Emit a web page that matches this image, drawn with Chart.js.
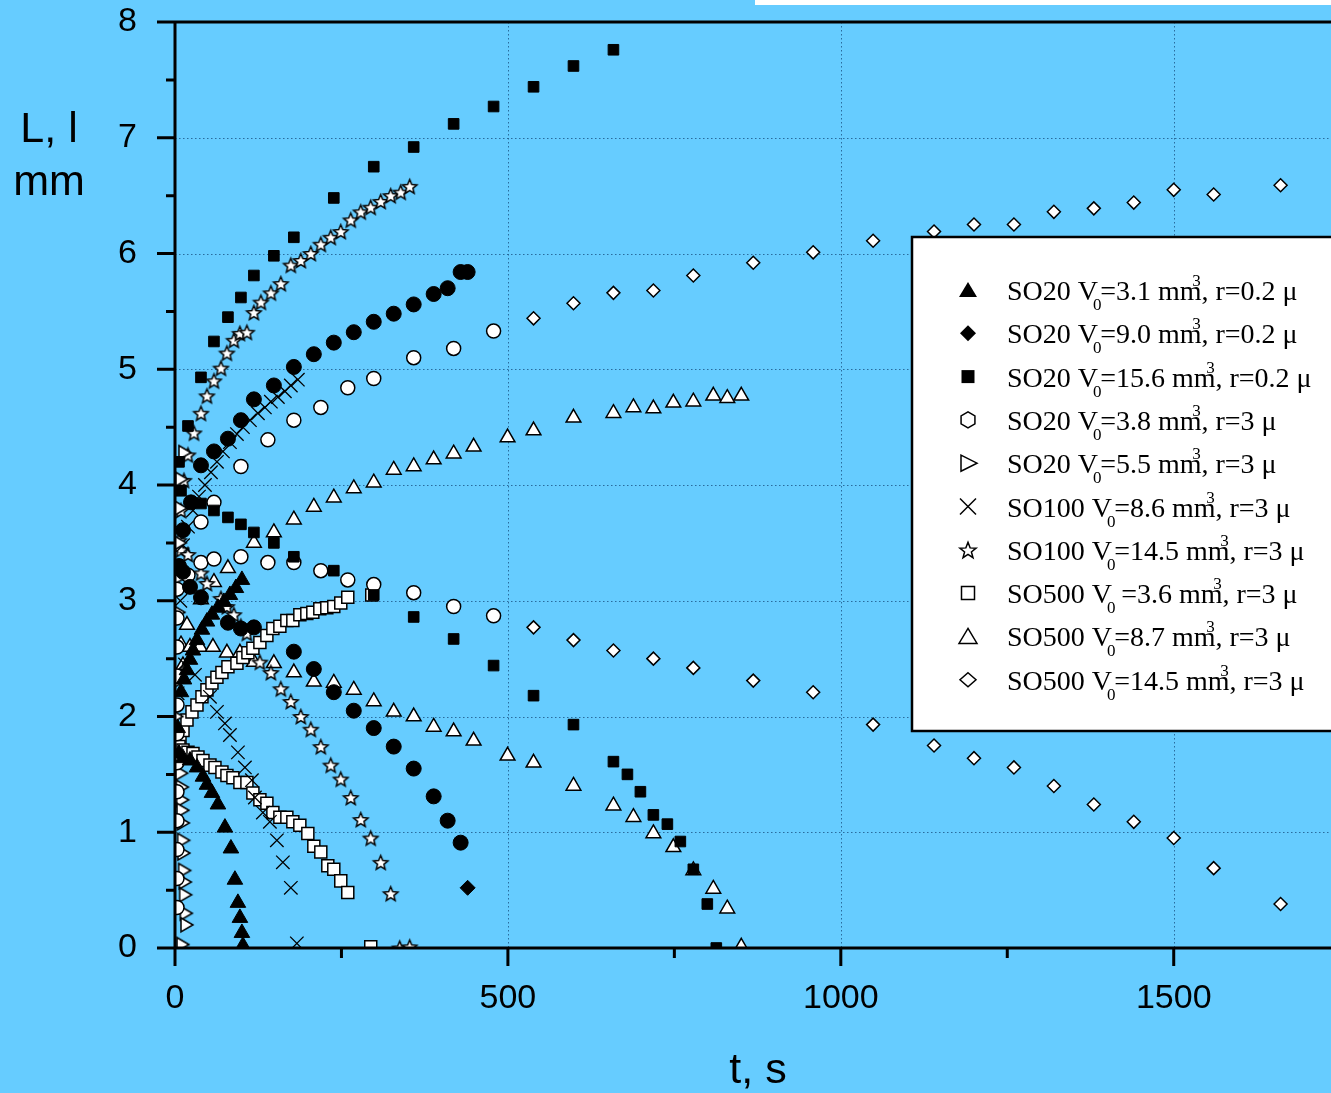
<!DOCTYPE html>
<html>
<head>
<meta charset="utf-8">
<script src="https://cdn.jsdelivr.net/npm/chart.js@4.4.1/dist/chart.umd.min.js"></script>
<style>
html, body { margin: 0; padding: 0; background: #66ccff; overflow: hidden; }
#wrap { position: relative; width: 1331px; height: 1093px; }
#topbar { position: absolute; left: 755px; top: 0; width: 576px; height: 5px; background: #fff; }
</style>
</head>
<body>
<div id="wrap">
  <canvas id="grafico" width="1331" height="1093"></canvas>
  <div id="topbar"></div>
</div>
<script>
// ticks
const xTicks = [0, 500, 1000, 1500];
const xMinor = [250, 750, 1250];
const yTicks = [0, 1, 2, 3, 4, 5, 6, 7, 8];
const yMinor = [0.5, 1.5, 2.5, 3.5, 4.5, 5.5, 6.5, 7.5];

// legend labels (_ = subscript, ^ = superscript for the next char)
const series = [
  'SO20 V_0=3.1 mm^3, r=0.2 μ',
  'SO20 V_0=9.0 mm^3, r=0.2 μ',
  'SO20 V_0=15.6 mm^3, r=0.2 μ',
  'SO20 V_0=3.8 mm^3, r=3 μ',
  'SO20 V_0=5.5 mm^3, r=3 μ',
  'SO100 V_0=8.6 mm^3, r=3 μ',
  'SO100 V_0=14.5 mm^3, r=3 μ',
  'SO500 V_0 =3.6 mm^3, r=3 μ',
  'SO500 V_0=8.7 mm^3, r=3 μ',
  'SO500 V_0=14.5 mm^3, r=3 μ'
];

// 1: SO20 3.1  (L = upper branch, l = lower branch)
const tL1 = [4, 9, 13.5, 18, 22.5, 27, 33, 40.5, 48, 55.5, 64.5, 73.5, 82.5, 91.5, 100.5];
const L1 = [1.9, 2.21, 2.32, 2.40, 2.49, 2.57, 2.66, 2.75, 2.82, 2.88, 2.94, 2.99, 3.05, 3.11, 3.18];
const tl1 = [6, 12, 22.5, 33, 42, 48, 55.5, 64.5, 75, 84, 90, 94.5, 97.5, 100.5, 102];
const l1 = [1.68, 1.64, 1.62, 1.56, 1.48, 1.41, 1.34, 1.24, 1.04, 0.86, 0.59, 0.39, 0.26, 0.13, 0.02];

// 2: SO20 9.0
const tL2 = [6, 12, 24, 39, 58.5, 79.5, 99, 118.5, 148.5, 178.5, 208.5, 238.5, 268.5, 298.5, 328.5, 358.5, 388.5, 409.5, 429, 439.5];
const L2 = [3.3, 3.61, 3.85, 4.17, 4.29, 4.40, 4.56, 4.74, 4.86, 5.02, 5.13, 5.23, 5.32, 5.41, 5.48, 5.56, 5.65, 5.70, 5.84, 5.84];
const tl2 = [12, 22.5, 39, 79.5, 99, 118.5, 178.5, 208.5, 238.5, 268.5, 298.5, 328.5, 358.5, 388.5, 409.5, 429, 439.5];
const l2 = [3.25, 3.12, 3.03, 2.81, 2.76, 2.77, 2.56, 2.41, 2.21, 2.05, 1.90, 1.74, 1.55, 1.31, 1.10, 0.91, 0.52];

// 3: SO20 15.6
const tL3 = [6, 19.5, 39, 58.5, 79.5, 99, 118.5, 148.5, 178.5, 238.5, 298.5, 358.5, 418.5, 478.5, 538.5, 598.5, 658.5];
const L3 = [4.2, 4.51, 4.93, 5.24, 5.45, 5.62, 5.81, 5.98, 6.14, 6.48, 6.75, 6.92, 7.12, 7.27, 7.44, 7.62, 7.76];
const tl3 = [9, 39, 58.5, 79.5, 99, 118.5, 148.5, 178.5, 238.5, 298.5, 358.5, 418.5, 478.5, 538.5, 598.5, 658.5, 679.5, 699, 718.5, 739.5, 759, 778.5, 799.5, 813];
const l3 = [3.95, 3.84, 3.78, 3.72, 3.66, 3.59, 3.50, 3.38, 3.26, 3.05, 2.86, 2.67, 2.44, 2.18, 1.93, 1.61, 1.50, 1.35, 1.15, 1.07, 0.92, 0.68, 0.38, 0.0];

// 4: SO20 3.8
const tL4 = [39, 58.5, 99, 139.5, 178.5, 219, 259.5, 298.5, 358.5, 418.5, 478.5];
const L4 = [3.68, 3.85, 4.16, 4.39, 4.56, 4.67, 4.84, 4.92, 5.10, 5.18, 5.33];
const tl4 = [3, 3, 3, 3, 3, 3, 3, 3, 3, 3, 3, 3, 19.5, 39, 58.5, 99, 139.5, 178.5, 219, 259.5, 298.5, 358.5, 418.5, 478.5];
const l4 = [0.35, 0.6, 0.85, 1.1, 1.35, 1.6, 1.85, 2.1, 2.35, 2.6, 2.85, 3.1, 3.22, 3.33, 3.36, 3.38, 3.33, 3.33, 3.26, 3.18, 3.14, 3.07, 2.95, 2.87];

// 5: SO20 5.5
const tL5 = [3, 4, 5, 6, 7, 8, 9, 10, 15];
const L5 = [2.0, 2.3, 2.6, 2.9, 3.2, 3.5, 3.8, 4.05, 4.28];
const tl5 = [10, 11, 11.5, 12, 12.5, 13, 13.5, 14.5, 15.5, 16, 17, 18, 12];
const l5 = [1.51, 1.39, 1.28, 1.19, 1.08, 0.93, 0.82, 0.67, 0.57, 0.46, 0.30, 0.20, 0.03];

// 6: SO100 8.6
const tL6 = [4, 8, 12, 19.5, 27, 36, 45, 54, 63, 72, 82.5, 93, 102, 112.5, 124.5, 135, 144, 154.5, 165, 174, 184.5];
const L6 = [2.4, 3.0, 3.48, 3.64, 3.78, 3.90, 4.00, 4.11, 4.20, 4.29, 4.37, 4.44, 4.50, 4.56, 4.62, 4.67, 4.72, 4.76, 4.81, 4.86, 4.91];
const tl6 = [4, 15, 30, 52.5, 63, 75, 82.5, 94.5, 105, 115.5, 120, 132, 142.5, 153, 162, 174, 183];
const l6 = [2.2, 2.45, 2.36, 2.17, 2.04, 1.94, 1.84, 1.69, 1.56, 1.45, 1.30, 1.17, 1.09, 0.93, 0.74, 0.52, 0.04];

// 7: SO100 14.5
const tL7 = [6, 9, 13.5, 19.5, 28.5, 39, 48, 58.5, 69, 78, 88.5, 97.5, 108, 118.5, 129, 144, 159, 174, 189, 204, 219, 234, 249, 264, 279, 294, 309, 324, 339, 352.5];
const L7 = [3.52, 3.78, 4.04, 4.26, 4.45, 4.62, 4.77, 4.90, 5.01, 5.14, 5.25, 5.31, 5.32, 5.49, 5.58, 5.66, 5.74, 5.90, 5.94, 6.00, 6.08, 6.14, 6.19, 6.29, 6.36, 6.40, 6.45, 6.50, 6.53, 6.58];
const tl7 = [9, 19.5, 39, 48, 69, 78, 88.5, 99, 108, 127.5, 144, 159, 174, 189, 204, 219, 234, 249, 264, 279, 294, 309, 324, 337.5, 352.5];
const l7 = [3.44, 3.40, 3.24, 3.15, 3.02, 2.95, 2.88, 2.78, 2.72, 2.47, 2.38, 2.24, 2.13, 2.00, 1.89, 1.74, 1.58, 1.46, 1.30, 1.11, 0.95, 0.74, 0.47, 0.0, 0.01];

// 8: SO500 3.6
const tL8 = [7.5, 12, 18, 25.5, 33, 40.5, 48, 55.5, 63, 70.5, 79.5, 93, 102, 109.5, 117, 127.5, 138, 147, 157.5, 168, 177, 187.5, 198, 207, 217.5, 228, 238.5, 249, 259.5, 295.5];
const L8 = [1.78, 1.88, 1.97, 2.04, 2.10, 2.17, 2.23, 2.29, 2.34, 2.38, 2.43, 2.46, 2.51, 2.55, 2.59, 2.64, 2.70, 2.76, 2.78, 2.83, 2.83, 2.88, 2.89, 2.90, 2.93, 2.94, 2.95, 2.98, 3.03, 3.05];
const tl8 = [6, 12, 19.5, 27, 34.5, 42, 52.5, 60, 70.5, 78, 87, 97.5, 108, 117, 127.5, 138, 147, 157.5, 168, 177, 187.5, 199.5, 208.5, 219, 229.5, 238.5, 249, 259.5, 294];
const l8 = [1.74, 1.71, 1.69, 1.68, 1.65, 1.62, 1.58, 1.56, 1.52, 1.49, 1.47, 1.43, 1.43, 1.34, 1.28, 1.25, 1.17, 1.13, 1.13, 1.09, 1.06, 0.99, 0.88, 0.83, 0.71, 0.68, 0.58, 0.48, 0.01];

// 9: SO500 8.7
const tL9 = [9, 18, 39, 58.5, 79.5, 118.5, 148.5, 178.5, 208.5, 238.5, 268.5, 298.5, 328.5, 358.5, 388.5, 418.5, 448.5, 499.5, 538.5, 598.5, 658.5, 688.5, 718.5, 748.5, 778.5, 808.5, 829.5, 850.5];
const L9 = [2.62, 2.79, 3.01, 3.16, 3.28, 3.50, 3.59, 3.70, 3.81, 3.89, 3.97, 4.02, 4.13, 4.16, 4.22, 4.27, 4.33, 4.41, 4.47, 4.58, 4.62, 4.67, 4.66, 4.71, 4.72, 4.77, 4.75, 4.77];
const tl9 = [12, 22.5, 37.5, 57, 78, 97.5, 118.5, 148.5, 178.5, 208.5, 238.5, 268.5, 298.5, 328.5, 358.5, 388.5, 418.5, 448.5, 499.5, 538.5, 598.5, 658.5, 688.5, 718.5, 748.5, 778.5, 808.5, 829.5, 850.5];
const l9 = [2.44, 2.60, 2.60, 2.60, 2.55, 2.55, 2.47, 2.46, 2.38, 2.30, 2.29, 2.23, 2.13, 2.04, 2.00, 1.91, 1.87, 1.79, 1.66, 1.60, 1.40, 1.23, 1.13, 0.99, 0.87, 0.67, 0.51, 0.34, 0.01];

// 10: SO500 14.5
const t10 = [538.5, 598.5, 658.5, 718.5, 778.5, 868.5, 958.5, 1048.5, 1140, 1200, 1260, 1320, 1380, 1440, 1500, 1560, 1660.5];
const L10 = [5.44, 5.57, 5.66, 5.68, 5.81, 5.92, 6.01, 6.11, 6.19, 6.25, 6.25, 6.36, 6.39, 6.44, 6.55, 6.51, 6.59];
const l10 = [2.77, 2.66, 2.57, 2.50, 2.42, 2.31, 2.21, 1.93, 1.75, 1.64, 1.56, 1.40, 1.24, 1.09, 0.95, 0.69, 0.38];

function pares(ts, vs) { return ts.map((t, i) => ({ x: t, y: vs[i] })); }

// custom glyphs
function estrella(r) {
  const c = document.createElement('canvas');
  const s = Math.ceil(r * 2 + 4);
  c.width = c.height = s;
  const g = c.getContext('2d');
  g.translate(s / 2, s / 2 + 0.8);
  g.beginPath();
  for (let i = 0; i < 10; i++) {
    const rr = i % 2 ? r * 0.45 : r;
    const a = -Math.PI / 2 + i * Math.PI / 5;
    g.lineTo(rr * Math.cos(a), rr * Math.sin(a));
  }
  g.closePath();
  g.fillStyle = '#fff'; g.fill();
  g.lineWidth = 1.5; g.strokeStyle = '#000'; g.stroke();
  return c;
}
function trianguloDer(w, h) {
  const c = document.createElement('canvas');
  c.width = w + 4; c.height = h + 4;
  const g = c.getContext('2d');
  g.beginPath();
  g.moveTo(2, 2); g.lineTo(w + 2, h / 2 + 2); g.lineTo(2, h + 2); g.closePath();
  g.fillStyle = '#fff'; g.fill();
  g.lineWidth = 1.5; g.strokeStyle = '#000'; g.stroke();
  return c;
}
const imgStar = estrella(7.5);
const imgTriR = trianguloDer(12, 14);

const negro = { backgroundColor: '#000', borderColor: '#000', borderWidth: 1 };
const blanco = { backgroundColor: '#fff', borderColor: '#000', borderWidth: 1.5 };

const datos2 = pares(tL2, L2).concat(pares(tl2, l2));

const datasets = [
  Object.assign({ data: pares(tL1, L1).concat(pares(tl1, l1)), pointStyle: 'triangle', pointRadius: 9 }, negro),
  Object.assign({ data: datos2, pointStyle: ctx => ctx.dataIndex === datos2.length - 1 ? 'rectRot' : 'circle', pointRadius: 7.5 }, negro),
  Object.assign({ data: pares(tL3, L3).concat(pares(tl3, l3)), pointStyle: 'rect', pointRadius: 7.5 }, negro),
  Object.assign({ data: pares(tL4, L4).concat(pares(tl4, l4)), pointStyle: 'circle', pointRadius: 7 }, blanco),
  Object.assign({ data: pares(tL5, L5).concat(pares(tl5, l5)), pointStyle: imgTriR, pointRadius: 7 }, blanco),
  { data: pares(tL6, L6).concat(pares(tl6, l6)), pointStyle: 'crossRot', pointRadius: 9.5, borderColor: '#000', borderWidth: 1.3, backgroundColor: '#000' },
  Object.assign({ data: pares(tL7, L7).concat(pares(tl7, l7)), pointStyle: imgStar, pointRadius: 7 }, blanco),
  Object.assign({ data: pares(tL8, L8).concat(pares(tl8, l8)), pointStyle: 'rect', pointRadius: 8.5 }, blanco),
  Object.assign({ data: pares(tL9, L9).concat(pares(tl9, l9)), pointStyle: 'triangle', pointRadius: 8.5 }, blanco),
  Object.assign({ data: pares(t10, L10).concat(pares(t10, l10)), pointStyle: 'rectRot', pointRadius: 6.5 }, blanco)
];
datasets.forEach((d, i) => { d.label = series[i]; d.showLine = false; d.pointHoverRadius = d.pointRadius; });

// legend markers
function marca(g, k, x, y) {
  g.save();
  g.lineWidth = 1.5; g.strokeStyle = '#000'; g.fillStyle = '#000';
  g.beginPath();
  if (k === 0) { g.moveTo(x, y - 8); g.lineTo(x + 9, y + 7); g.lineTo(x - 9, y + 7); g.closePath(); g.fill(); }
  else if (k === 1) { g.moveTo(x, y - 8); g.lineTo(x + 8, y); g.lineTo(x, y + 8); g.lineTo(x - 8, y); g.closePath(); g.fill(); }
  else if (k === 2) { g.rect(x - 6.5, y - 6.5, 13, 13); g.fill(); }
  else if (k === 3) { for (let i = 0; i < 6; i++) { const a = Math.PI / 6 + i * Math.PI / 3; g.lineTo(x + 8 * Math.cos(a), y + 8 * Math.sin(a)); } g.closePath(); g.stroke(); }
  else if (k === 4) { g.moveTo(x - 7, y - 8); g.lineTo(x + 9, y); g.lineTo(x - 7, y + 8); g.closePath(); g.stroke(); }
  else if (k === 5) { g.moveTo(x - 8, y - 8); g.lineTo(x + 8, y + 8); g.moveTo(x + 8, y - 8); g.lineTo(x - 8, y + 8); g.stroke(); }
  else if (k === 6) { for (let i = 0; i < 10; i++) { const rr = i % 2 ? 3.6 : 8.5; const a = -Math.PI / 2 + i * Math.PI / 5; g.lineTo(x + rr * Math.cos(a), y + 1 + rr * Math.sin(a)); } g.closePath(); g.stroke(); }
  else if (k === 7) { g.rect(x - 6.5, y - 6.5, 13, 13); g.stroke(); }
  else if (k === 8) { g.moveTo(x, y - 8); g.lineTo(x + 9, y + 7); g.lineTo(x - 9, y + 7); g.closePath(); g.stroke(); }
  else { g.moveTo(x, y - 7); g.lineTo(x + 8, y); g.lineTo(x, y + 7); g.lineTo(x - 8, y); g.closePath(); g.stroke(); }
  g.restore();
}

function texto(g, s, x, base) {
  const normal = '28px "Liberation Serif", "Times New Roman", serif';
  const chico = '17px "Liberation Serif", "Times New Roman", serif';
  for (let i = 0; i < s.length; i++) {
    const c = s[i];
    if (c === '_' || c === '^') {
      const n = s[++i];
      g.font = chico;
      const w = g.measureText(n).width;
      if (c === '_') {
        g.fillText(n, x - w * 0.6, base + 10);
        x += w * 0.25;
      } else {
        g.fillText(n, x - w * 1.1, base - 14);
      }
      g.font = normal;
    } else {
      g.font = normal;
      g.fillText(c, x, base);
      x += g.measureText(c).width;
    }
  }
}

const ejes = {
  id: 'ejes',
  beforeDatasetsDraw(chart) {
    const { ctx, chartArea: a, scales: { x, y } } = chart;
    ctx.save();
    ctx.strokeStyle = 'rgba(30,90,140,0.85)';
    ctx.lineWidth = 1;
    ctx.setLineDash([1.5, 2.5]);
    yTicks.forEach(v => {
      if (v <= 0 || v >= 8) return;
      const py = Math.round(y.getPixelForValue(v)) + 0.5;
      ctx.beginPath(); ctx.moveTo(a.left, py); ctx.lineTo(1331, py); ctx.stroke();
    });
    xTicks.forEach(v => {
      if (v <= 0) return;
      const px = Math.round(x.getPixelForValue(v)) + 0.5;
      ctx.beginPath(); ctx.moveTo(px, a.top); ctx.lineTo(px, a.bottom); ctx.stroke();
    });
    ctx.restore();
  },
  afterDatasetsDraw(chart) {
    const { ctx, chartArea: a, scales: { x, y } } = chart;
    ctx.save();
    ctx.strokeStyle = '#000';
    ctx.lineWidth = 3;
    ctx.beginPath();
    ctx.moveTo(a.left, a.bottom); ctx.lineTo(1331, a.bottom);
    ctx.moveTo(a.left, a.top); ctx.lineTo(1331, a.top);
    ctx.moveTo(a.left, a.top - 1.5); ctx.lineTo(a.left, a.bottom + 1.5);
    yTicks.forEach(v => { const py = y.getPixelForValue(v); ctx.moveTo(a.left - 18, py); ctx.lineTo(a.left, py); });
    yMinor.forEach(v => { const py = y.getPixelForValue(v); ctx.moveTo(a.left - 9, py); ctx.lineTo(a.left, py); });
    xTicks.forEach(v => { const px = x.getPixelForValue(v); ctx.moveTo(px, a.bottom); ctx.lineTo(px, a.bottom + 18); });
    xMinor.forEach(v => { const px = x.getPixelForValue(v); ctx.moveTo(px, a.bottom); ctx.lineTo(px, a.bottom + 10); });
    ctx.stroke();
    ctx.restore();
  },
  afterDraw(chart) {
    const ctx = chart.ctx;
    ctx.save();
    // axis titles
    ctx.fillStyle = '#000';
    ctx.font = '43px "Liberation Sans", Arial, sans-serif';
    ctx.textAlign = 'center';
    ctx.textBaseline = 'alphabetic';
    ctx.fillText('L, l', 49, 142);
    ctx.fillText('mm', 49, 195);
    ctx.fillText('t, s', 758, 1083);
    // legend box
    ctx.fillStyle = '#fff';
    ctx.fillRect(912, 237, 440, 494);
    ctx.strokeStyle = '#000';
    ctx.lineWidth = 2.5;
    ctx.strokeRect(912, 237, 440, 494);
    ctx.textAlign = 'left';
    ctx.fillStyle = '#000';
    series.forEach((s, i) => {
      const base = 300 + i * 43.3;
      marca(ctx, i, 968, base - 10);
      texto(ctx, s, 1007, base);
    });
    ctx.restore();
  }
};

const fuenteEje = { family: '"Liberation Sans", Arial, sans-serif', size: 34 };

new Chart(document.getElementById('grafico'), {
  type: 'scatter',
  data: { datasets },
  options: {
    responsive: false,
    animation: false,
    layout: { padding: { top: 22, right: 0, left: 0, bottom: 0 } },
    plugins: { legend: { display: false }, tooltip: { enabled: false } },
    scales: {
      x: {
        type: 'linear', min: 0, max: 1720,
        afterBuildTicks: s => { s.ticks = xTicks.map(v => ({ value: v })); },
        afterFit: s => { s.height = 145; s.paddingLeft = 0; s.paddingRight = 0; },
        grid: { display: false }, border: { display: false },
        ticks: { font: fuenteEje, color: '#000', padding: 22, maxRotation: 0, callback: v => String(v) }
      },
      y: {
        type: 'linear', min: 0, max: 8,
        afterBuildTicks: s => { s.ticks = yTicks.map(v => ({ value: v })); },
        afterFit: s => { s.width = 175; s.paddingTop = 0; s.paddingBottom = 0; },
        grid: { display: false }, border: { display: false },
        ticks: { font: fuenteEje, color: '#000', padding: 30, callback: v => String(v) }
      }
    }
  },
  plugins: [ejes]
});
</script>
</body>
</html>
